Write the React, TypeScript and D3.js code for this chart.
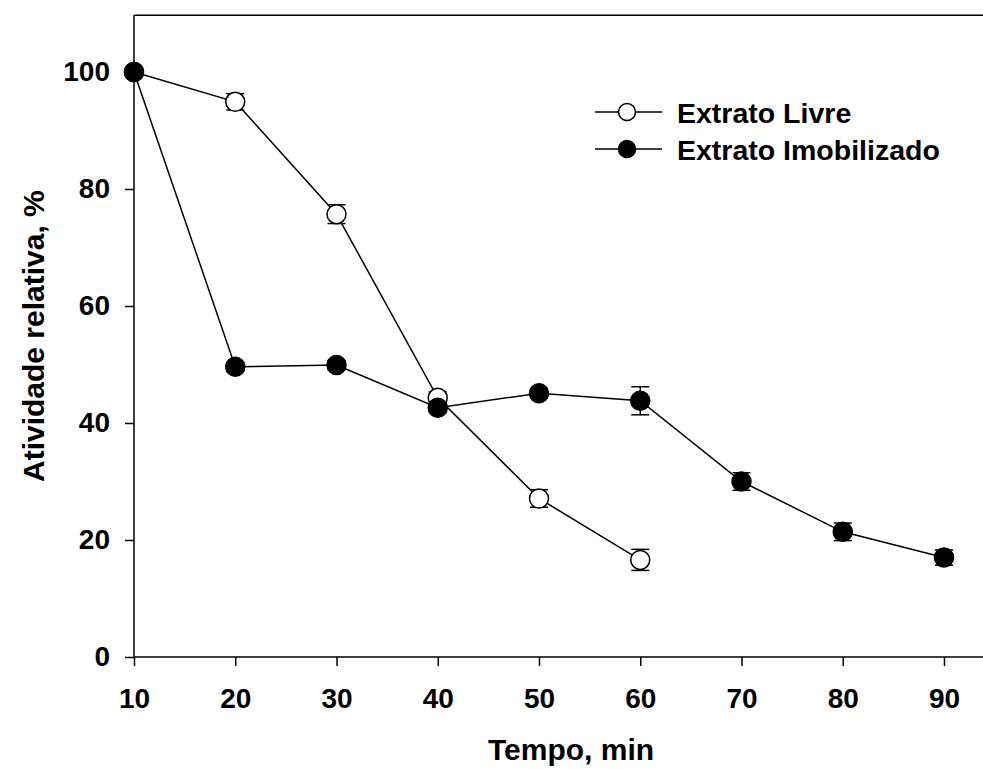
import * as d3 from "d3";
import React, { useEffect, useRef } from "react";

const livreX = [10, 20, 30, 40, 50, 60];
const livreY = [100, 94.9, 75.7, 44.3, 27.1, 16.6];
const livreErr = [0.8, 1.4, 1.6, 1.0, 1.5, 1.8];

const imobX = [10, 20, 30, 40, 50, 60, 70, 80, 90];
const imobY = [100, 49.6, 49.9, 42.6, 45.1, 43.8, 30.0, 21.4, 17.0];
const imobErr = [0.8, 0.8, 0.8, 0.8, 0.8, 2.4, 1.5, 1.5, 1.3];

const xTicks = [10, 20, 30, 40, 50, 60, 70, 80, 90];
const yTicks = [0, 20, 40, 60, 80, 100];

const W = 983;
const H = 769;
const FONT = "'Liberation Sans', Arial, sans-serif";

const App: React.FC = () => {
  const svgRef = useRef<SVGSVGElement>(null);

  useEffect(() => {
    if (!svgRef.current) return;
    const svg = d3.select(svgRef.current);
    svg.selectAll("*").remove();

    const x = d3.scaleLinear().domain([10, 90]).range([134, 944]);
    const y = d3.scaleLinear().domain([0, 100]).range([657, 72]);
    const yTop = y(109.7);

    // frame top line
    svg.append("line")
      .attr("x1", x(10)).attr("x2", W + 5)
      .attr("y1", yTop).attr("y2", yTop)
      .attr("stroke", "black").attr("stroke-width", 1.5);

    const xAxis = svg.append("g")
      .attr("transform", `translate(0,${y(0)})`)
      .call(d3.axisBottom(x).tickValues(xTicks).tickSize(9).tickPadding(22).tickSizeOuter(0));
    xAxis.select(".domain").attr("d", `M${x(10)},0H${W + 5}`).attr("stroke-width", 1.5);
    xAxis.selectAll("line").attr("stroke-width", 1.5);
    xAxis.selectAll("text")
      .attr("font-family", FONT).attr("font-size", 28).attr("font-weight", "bold")
      .attr("fill", "black");

    const yAxis = svg.append("g")
      .attr("transform", `translate(${x(10)},0)`)
      .call(d3.axisLeft(y).tickValues(yTicks).tickSize(9).tickPadding(15).tickSizeOuter(0));
    yAxis.select(".domain").attr("d", `M0,${yTop}V${y(0)}`).attr("stroke-width", 1.5);
    yAxis.selectAll("line").attr("stroke-width", 1.5);
    yAxis.selectAll("text")
      .attr("font-family", FONT).attr("font-size", 28).attr("font-weight", "bold")
      .attr("fill", "black");

    // axis titles
    svg.append("text")
      .attr("x", 571).attr("y", 760)
      .attr("text-anchor", "middle")
      .attr("font-family", FONT).attr("font-size", 30).attr("font-weight", "bold")
      .text("Tempo, min");
    svg.append("text")
      .attr("transform", `translate(44,${(yTop + y(0)) / 2}) rotate(-90)`)
      .attr("text-anchor", "middle")
      .attr("font-family", FONT).attr("font-size", 30).attr("font-weight", "bold")
      .text("Atividade relativa, %");

    const line = d3.line<[number, number]>().x((d) => x(d[0])).y((d) => y(d[1]));

    const drawSeries = (xs: number[], ys: number[], errs: number[], fill: string) => {
      const pts = xs.map((v, i) => [v, ys[i]] as [number, number]);
      svg.append("path")
        .attr("d", line(pts))
        .attr("fill", "none").attr("stroke", "black").attr("stroke-width", 1.5);
      const eb = svg.append("g");
      pts.forEach((p, i) => {
        const cx = x(p[0]);
        const y1 = y(p[1] + errs[i]);
        const y2 = y(p[1] - errs[i]);
        eb.append("line").attr("x1", cx).attr("x2", cx).attr("y1", y1).attr("y2", y2)
          .attr("stroke", "black").attr("stroke-width", 1.5);
        [y1, y2].forEach((yy) => {
          eb.append("line").attr("x1", cx - 9).attr("x2", cx + 9).attr("y1", yy).attr("y2", yy)
            .attr("stroke", "black").attr("stroke-width", 1.5);
        });
      });
      svg.append("g").selectAll("circle").data(pts).enter().append("circle")
        .attr("cx", (d) => x(d[0])).attr("cy", (d) => y(d[1]))
        .attr("r", 9.5)
        .attr("fill", fill).attr("stroke", "black").attr("stroke-width", 1.5);
    };

    drawSeries(livreX, livreY, livreErr, "white");
    drawSeries(imobX, imobY, imobErr, "black");

    // legend
    const legend = [
      { label: "Extrato Livre", fill: "white", yy: 112 },
      { label: "Extrato Imobilizado", fill: "black", yy: 149 },
    ];
    legend.forEach((l) => {
      svg.append("line").attr("x1", 595).attr("x2", 662).attr("y1", l.yy).attr("y2", l.yy)
        .attr("stroke", "black").attr("stroke-width", 1.5);
      svg.append("circle").attr("cx", 627).attr("cy", l.yy).attr("r", 8.5)
        .attr("fill", l.fill).attr("stroke", "black").attr("stroke-width", 1.5);
      svg.append("text").attr("x", 677).attr("y", l.yy + 11)
        .attr("font-family", FONT).attr("font-size", 28.5).attr("font-weight", "bold")
        .text(l.label);
    });
  }, []);

  return (
    <svg
      ref={svgRef}
      width={W}
      height={H}
      style={{ position: "absolute", left: 0, top: 0, background: "white" }}
    />
  );
};

export default App;
